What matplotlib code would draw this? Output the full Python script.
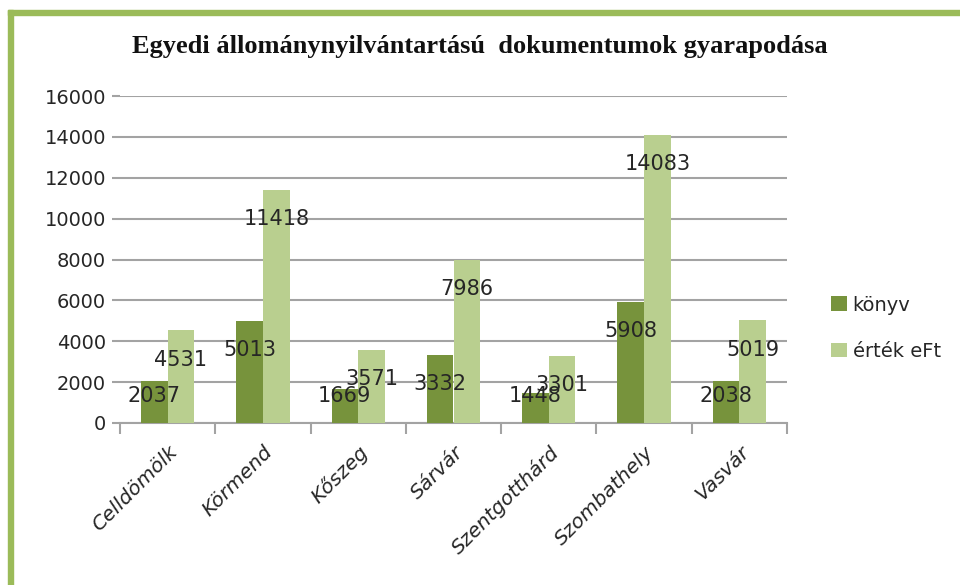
import matplotlib.pyplot as plt
import numpy as np
from matplotlib.patches import Rectangle

# adatok
varosok = ['Celldömölk', 'Körmend', 'Kőszeg', 'Sárvár', 'Szentgotthárd', 'Szombathely', 'Vasvár']
konyv = [2037, 5013, 1669, 3332, 1448, 5908, 2038]
ertek = [4531, 11418, 3571, 7986, 3301, 14083, 5019]
yticks = [0, 2000, 4000, 6000, 8000, 10000, 12000, 14000, 16000]

sotet = '#77933c'
vilagos = '#b9cf8f'
racs = '#a3a3a3'

fig = plt.figure(figsize=(9.6, 5.85), dpi=100)
ax = fig.add_axes([120/960, 1 - 423/585, (787 - 120)/960, (423 - 96)/585])

x = np.arange(len(varosok))
w = 0.28
ax.bar(x - w/2, konyv, w, color=sotet, label='könyv', zorder=3)
ax.bar(x + w/2, ertek, w, color=vilagos, label='érték eFt', zorder=3)

# értékcímkék az oszlopok tetejénél, kicsit lejjebb
for xs, vals in ((x - w/2, konyv), (x + w/2, ertek)):
    for xi, v in zip(xs, vals):
        ax.text(xi, max(v - 1430, 1300), str(v), ha='center', va='center',
                fontsize=15, color='#262626', zorder=4)

ax.set_ylim(0, 16000)
ax.set_xlim(-0.5, len(varosok) - 0.5)
ax.set_yticks(yticks)
ax.set_yticklabels([str(t) for t in yticks], fontsize=14, color='#262626')
ax.yaxis.grid(True, color=racs, linewidth=1.5, zorder=0)
ax.tick_params(axis='y', length=6, color=racs, width=1.5, pad=4)

ax.set_xticks(x)
ax.set_xticklabels(varosok, rotation=45, ha='right', rotation_mode='anchor',
                   fontsize=14.5, color='#262626', style='italic')
ax.tick_params(axis='x', length=0, pad=14)
ax.set_xticks(np.arange(-0.5, len(varosok)), minor=True)
ax.tick_params(axis='x', which='minor', length=8, color=racs, width=1.5)

for s in ['top', 'right', 'left']:
    ax.spines[s].set_visible(False)
ax.spines['bottom'].set_color(racs)
ax.spines['bottom'].set_linewidth(1.5)

fig.text(0.5, 1 - 47/585, 'Egyedi állománynyilvántartású  dokumentumok gyarapodása',
         ha='center', va='center', fontsize=19, fontweight='bold',
         family='Liberation Serif', color='#111111')

ax.legend(loc='center left', bbox_to_anchor=(1.04, 0.29), frameon=False,
          fontsize=14, handlelength=0.8, handleheight=0.8, handletextpad=0.3,
          labelspacing=1.4, labelcolor='#262626')

# zöld keret bal és felső oldalon
fig.patches.append(Rectangle((8/960, 0), 5/960, 1 - 10/585, transform=fig.transFigure,
                             color='#9bbb59', zorder=0))
fig.patches.append(Rectangle((8/960, 1 - 15/585), 1, 5/585, transform=fig.transFigure,
                             color='#9bbb59', zorder=0))

fig.savefig('out.png', dpi=100)
